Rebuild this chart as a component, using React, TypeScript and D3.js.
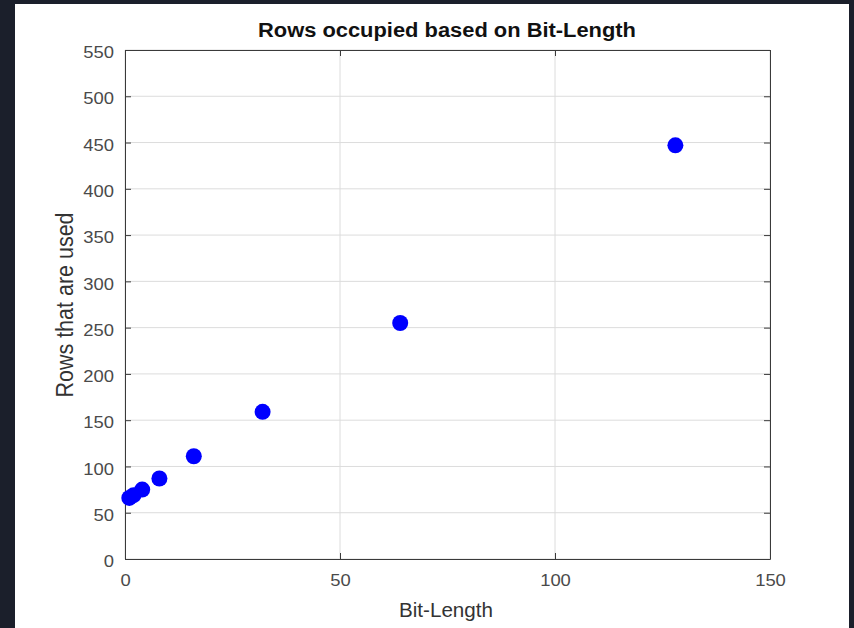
import React, { useRef, useEffect } from 'react'
import * as d3 from 'd3'

const bitLengths = [1, 2, 4, 8, 16, 32, 64, 128]
const rowsUsed = [66, 69, 75, 87, 111, 159, 255, 447]
const xTicks = [0, 50, 100, 150]
const yTicks = [0, 50, 100, 150, 200, 250, 300, 350, 400, 450, 500, 550]

export default function App() {
  const svgRef = useRef<SVGSVGElement>(null)

  useEffect(() => {
    if (!svgRef.current) return
    const svg = d3.select(svgRef.current)
    svg.selectAll('*').remove()

    const width = 854
    const height = 628
    const plot = { left: 125, right: 770, top: 50, bottom: 559 }
    const font = '"Liberation Sans", Arial, sans-serif'
    const stretch = 1.15 // the screenshot is a bit wider than tall

    // dark frame + white figure
    svg.append('rect').attr('width', width).attr('height', height).attr('fill', '#1b1f2b')
    svg.append('rect')
      .attr('x', 15).attr('y', 4)
      .attr('width', 834).attr('height', 624)
      .attr('fill', '#ffffff')

    const x = d3.scaleLinear().domain([0, 150]).range([plot.left, plot.right])
    const y = d3.scaleLinear().domain([0, 550]).range([plot.bottom, plot.top])

    // grid
    const grid = svg.append('g')
    grid.selectAll('.gx')
      .data(xTicks)
      .enter().append('line')
      .attr('x1', d => x(d)).attr('x2', d => x(d))
      .attr('y1', plot.top).attr('y2', plot.bottom)
      .attr('stroke', '#dcdcdc').attr('stroke-width', 1)
    grid.selectAll('.gy')
      .data(yTicks)
      .enter().append('line')
      .attr('x1', plot.left).attr('x2', plot.right)
      .attr('y1', d => y(d)).attr('y2', d => y(d))
      .attr('stroke', '#dcdcdc').attr('stroke-width', 1)

    const widen = (sel: d3.Selection<any, any, any, any>) => {
      sel.each(function () {
        const t = this as SVGTextElement
        const w = t.getComputedTextLength()
        t.setAttribute('textLength', String(w * stretch))
        t.setAttribute('lengthAdjust', 'spacingAndGlyphs')
      })
    }

    // axes (ticks inward, MATLAB style box)
    const axColor = '#3a3a3a'
    const tickLen = 6
    svg.append('g')
      .attr('transform', `translate(0,${plot.bottom})`)
      .call(d3.axisBottom(x).tickValues(xTicks).tickSizeInner(-tickLen).tickSizeOuter(0).tickPadding(16))
      .call(g => {
        g.select('.domain').attr('stroke', axColor)
        g.selectAll('line').attr('stroke', axColor)
        g.selectAll('text').attr('font-family', font).attr('font-size', 16).attr('fill', '#4a4a4a')
        widen(g.selectAll('text'))
      })
    svg.append('g')
      .attr('transform', `translate(${plot.left},0)`)
      .call(d3.axisLeft(y).tickValues(yTicks).tickSizeInner(-tickLen).tickSizeOuter(0).tickPadding(11))
      .call(g => {
        g.select('.domain').attr('stroke', axColor)
        g.selectAll('line').attr('stroke', axColor)
        g.selectAll('text').attr('font-family', font).attr('font-size', 16).attr('fill', '#4a4a4a')
          .attr('dy', '0.48em')
        widen(g.selectAll('text'))
      })
    svg.append('g')
      .attr('transform', `translate(0,${plot.top})`)
      .call(d3.axisTop(x).tickValues(xTicks).tickSizeInner(-tickLen).tickSizeOuter(0).tickFormat(() => ''))
      .call(g => {
        g.select('.domain').attr('stroke', axColor)
        g.selectAll('line').attr('stroke', axColor)
      })
    svg.append('g')
      .attr('transform', `translate(${plot.right},0)`)
      .call(d3.axisRight(y).tickValues(yTicks).tickSizeInner(-tickLen).tickSizeOuter(0).tickFormat(() => ''))
      .call(g => {
        g.select('.domain').attr('stroke', axColor)
        g.selectAll('line').attr('stroke', axColor)
      })

    // points
    svg.append('g')
      .selectAll('circle')
      .data(bitLengths.map((b, i) => ({ b, r: rowsUsed[i] })))
      .enter().append('circle')
      .attr('cx', d => x(d.b))
      .attr('cy', d => y(d.r))
      .attr('r', 8)
      .attr('fill', '#0000ff')

    // title and labels
    svg.append('text')
      .attr('x', 447)
      .attr('y', 37)
      .attr('text-anchor', 'middle')
      .attr('font-family', font)
      .attr('font-size', 20)
      .attr('font-weight', 'bold')
      .attr('fill', '#111111')
      .attr('textLength', 378)
      .attr('lengthAdjust', 'spacingAndGlyphs')
      .text('Rows occupied based on Bit-Length')

    svg.append('text')
      .attr('x', 446)
      .attr('y', 617)
      .attr('text-anchor', 'middle')
      .attr('font-family', font)
      .attr('font-size', 20)
      .attr('fill', '#333333')
      .attr('textLength', 94)
      .attr('lengthAdjust', 'spacingAndGlyphs')
      .text('Bit-Length')

    svg.append('text')
      .attr('transform', `translate(73,305) scale(${stretch},1) rotate(-90)`)
      .attr('text-anchor', 'middle')
      .attr('font-family', font)
      .attr('font-size', 21.5)
      .attr('fill', '#333333')
      .text('Rows that are used')
  }, [])

  return (
    <svg
      ref={svgRef}
      width={854}
      height={628}
      style={{ position: 'absolute', left: 0, top: 0, display: 'block' }}
    />
  )
}
